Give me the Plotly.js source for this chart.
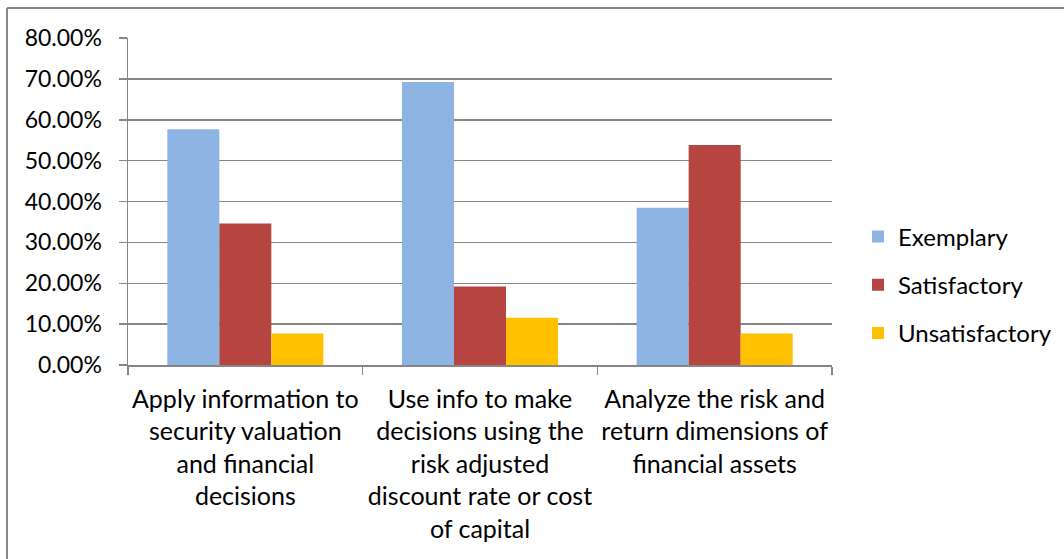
<!DOCTYPE html>
<html>
<head>
<meta charset="utf-8">
<script src="https://cdn.plot.ly/plotly-3.0.1.min.js"></script>
<style>
html,body{margin:0;padding:0;background:#fff;}
#chart{width:1064px;height:559px;}
</style>
</head>
<body>
<div id="chart"></div>
<script>
const categories = [
  "Apply information to<br>security valuation<br>and financial<br>decisions",
  "Use info to make<br>decisions using the<br>risk adjusted<br>discount rate or cost<br>of capital",
  "Analyze the risk and<br>return dimensions of<br>financial assets"
];
const seriesNames = ["Exemplary", "Satisfactory", "Unsatisfactory"];
const exemplary = [0.5769, 0.6923, 0.3846];
const satisfactory = [0.3462, 0.1923, 0.5385];
const unsatisfactory = [0.0769, 0.1154, 0.0769];
const colors = ["#8EB4E3", "#B64541", "#FFC000"];
const seriesValues = [exemplary, satisfactory, unsatisfactory];

const FONT = "Lato, Calibri, 'Open Sans', sans-serif";

const traces = seriesValues.map((vals, i) => ({
  type: "bar",
  name: seriesNames[i],
  x: categories,
  y: vals,
  marker: {color: colors[i], line: {width: 0}},
  legendgroup: "g" + i,
  hoverinfo: "skip"
}));

// plot area px: left 128, right 832, top 38, bottom 365
const L = 128, R = 832, T = 38, B = 365, W = 1064, H = 559;
const px2x = p => (p - L) / (R - L);
const px2y = p => (B - p) / (B - T);

const layout = {
  width: W, height: H,
  margin: {l: L, r: W - R, t: T, b: H - B, pad: 0, autoexpand: false},
  paper_bgcolor: "#fff",
  plot_bgcolor: "#fff",
  font: {family: FONT, color: "#000", size: 23},
  barmode: "group",
  bargap: 0.335,
  bargroupgap: 0,
  showlegend: true,
  legend: {
    x: px2x(858), xanchor: "left",
    y: px2y(285), yanchor: "middle",
    font: {family: FONT, size: 24, color: "#000"},
    traceorder: "grouped",
    tracegroupgap: 14,
    bgcolor: "rgba(0,0,0,0)"
  },
  xaxis: {
    type: "category",
    showline: true, linecolor: "#868686", linewidth: 1.5,
    ticks: "outside", tickson: "boundaries", ticklen: 8, tickcolor: "#868686", tickwidth: 1.5,
    showgrid: false,
    tickangle: 0,
    automargin: false,
    ticklabelstandoff: 11,
    tickfont: {family: FONT, size: 25, color: "#000"},
    fixedrange: true
  },
  yaxis: {
    range: [0, 0.8],
    dtick: 0.1,
    tick0: 0,
    tickformat: ".2%",
    showline: true, linecolor: "#868686", linewidth: 1.5,
    ticks: "outside", ticklen: 8, tickcolor: "#868686", tickwidth: 1.5,
    showgrid: true, gridcolor: "#868686", gridwidth: 1.5,
    zeroline: false,
    automargin: false,
    ticklabelstandoff: 12,
    tickfont: {family: FONT, size: 23, color: "#000"},
    fixedrange: true
  },
  shapes: [
    {type: "line", xref: "paper", yref: "paper", x0: px2x(7), x1: px2x(7), y0: px2y(8), y1: px2y(H + 5), line: {color: "#868686", width: 2}},
    {type: "line", xref: "paper", yref: "paper", x0: px2x(7), x1: px2x(W + 5), y0: px2y(8), y1: px2y(8), line: {color: "#868686", width: 2}}
  ]
};

Plotly.newPlot("chart", traces, layout, {displayModeBar: false, staticPlot: true});
</script>
</body>
</html>
